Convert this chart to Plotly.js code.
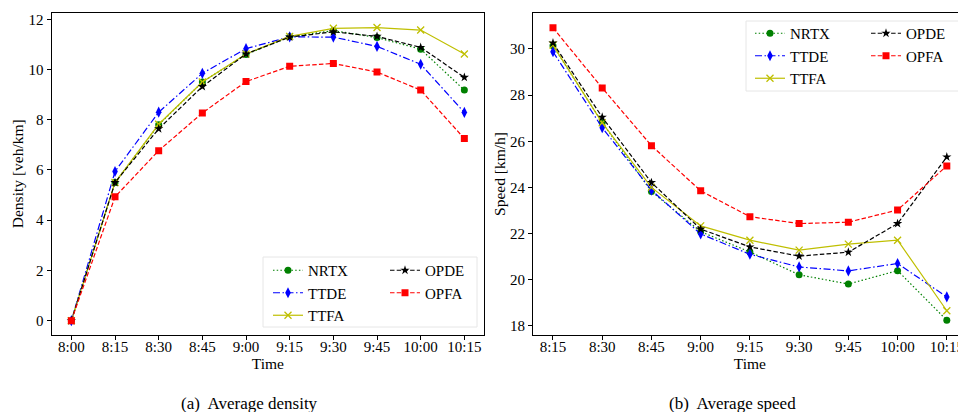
<!DOCTYPE html>
<html>
<head>
<meta charset="utf-8">
<script src="https://cdn.plot.ly/plotly-3.0.1.min.js"></script>
<style>
html, body { margin: 0; padding: 0; overflow: hidden; background: #fff; }
#chart { width: 980px; height: 412px; }
</style>
</head>
<body>
<div id="chart"></div>
<script>
// ---- data ----
const timesDensity = ['8:00','8:15','8:30','8:45','9:00','9:15','9:30','9:45','10:00','10:15'];
const timesSpeed = ['8:15','8:30','8:45','9:00','9:15','9:30','9:45','10:00','10:15'];

const densNRTX = [0, 5.50, 7.80, 9.50, 10.60, 11.30, 11.55, 11.27, 10.81, 9.18];
const densTTDE = [0, 5.94, 8.30, 9.85, 10.83, 11.30, 11.29, 10.92, 10.21, 8.29];
const densTTFA = [0, 5.50, 7.82, 9.50, 10.62, 11.32, 11.64, 11.67, 11.57, 10.62];
const densOPDE = [0, 5.50, 7.64, 9.32, 10.62, 11.29, 11.50, 11.32, 10.88, 9.69];
const densOPFA = [0, 4.93, 6.77, 8.27, 9.52, 10.13, 10.24, 9.90, 9.18, 7.25];

const spdNRTX = [30.14, 26.81, 23.82, 22.08, 21.20, 20.21, 19.81, 20.39, 18.24];
const spdTTDE = [29.88, 26.59, 23.88, 21.98, 21.10, 20.55, 20.38, 20.70, 19.25];
const spdTTFA = [30.17, 26.80, 24.00, 22.33, 21.71, 21.28, 21.54, 21.71, 18.65];
const spdOPDE = [30.26, 27.04, 24.21, 22.19, 21.42, 21.02, 21.19, 22.43, 25.32];
const spdOPFA = [30.92, 28.31, 25.81, 23.85, 22.73, 22.43, 22.49, 23.02, 24.93];

const seriesNames = ['NRTX','TTDE','TTFA','OPDE','OPFA'];
const seriesColors = ['#008000','#0000ff','#bfbf00','#000000','#ff0000'];
const seriesDash = ['1.5px,2.2px','7px,2.5px,1.5px,2.5px','solid','4.5px,2.2px','4.5px,2.2px'];
const seriesSymbols = ['circle','diamond-tall','x-thin-open','star','square'];
const seriesSizes = [7, 8, 7, 7, 7];

// ---- figure geometry ----
const W = 980, H = 412;
const px = v => v / W;
const py = v => 1 - v / H;

const densData = [densNRTX, densTTDE, densTTFA, densOPDE, densOPFA];
const spdData = [spdNRTX, spdTTDE, spdTTFA, spdOPDE, spdOPFA];
const legendLeft = ['legend','legend','legend','legend2','legend2'];
const legendRight = ['legend3','legend3','legend3','legend4','legend4'];

const traces = [];
function mk(xs, ys, i, xa, ya, lg) {
  return {
    x: xs, y: ys, type: 'scatter', mode: 'lines+markers', name: seriesNames[i],
    xaxis: xa, yaxis: ya, legend: lg, cliponaxis: true,
    line: {color: seriesColors[i], width: 1.2, dash: seriesDash[i]},
    marker: {symbol: seriesSymbols[i], size: seriesSizes[i], color: seriesColors[i],
             line: {color: seriesColors[i], width: seriesSymbols[i] === 'x-thin-open' ? 1.3 : 0}}
  };
}
for (let i = 0; i < 5; i++) traces.push(mk(timesDensity, densData[i], i, 'x', 'y', legendLeft[i]));
for (let i = 0; i < 5; i++) traces.push(mk(timesSpeed, spdData[i], i, 'x2', 'y2', legendRight[i]));

const serif = 'Liberation Serif, Times New Roman, serif';
const axisCommon = {
  showgrid: false, zeroline: false, showline: true, mirror: true,
  linecolor: '#000', linewidth: 1.2, ticks: 'outside', ticklen: 4, tickwidth: 1,
  tickcolor: '#000', tickfont: {family: serif, size: 15, color: '#000'}
};
const legendCommon = {
  bgcolor: 'rgba(0,0,0,0)', borderwidth: 0, xanchor: 'left', yanchor: 'top',
  font: {family: serif, size: 15, color: '#000'}, tracegroupgap: 0
};

const layout = {
  width: W, height: H, margin: {l: 0, r: 0, t: 0, b: 0},
  paper_bgcolor: '#fff', plot_bgcolor: '#fff', showlegend: true,
  xaxis: Object.assign({}, axisCommon, {domain: [px(51.7), px(484)], type: 'category', range: [-0.45, 9.45],
    ticklabelstandoff: -6,
    title: {text: 'Time', font: {family: serif, size: 15.5, color: '#000'}, standoff: 0}}),
  yaxis: Object.assign({}, axisCommon, {domain: [py(334.5), py(13)], range: [-0.55, 12.25], dtick: 2, tick0: 0,
    title: {text: 'Density [veh/km]', font: {family: serif, size: 15.5, color: '#000'}, standoff: 1}}),
  xaxis2: Object.assign({}, axisCommon, {domain: [px(533.3), px(966.5)], type: 'category', range: [-0.4, 8.4], anchor: 'y2',
    ticklabelstandoff: -6,
    title: {text: 'Time', font: {family: serif, size: 15.5, color: '#000'}, standoff: 0}}),
  yaxis2: Object.assign({}, axisCommon, {domain: [py(335), py(13)], range: [17.6, 31.56], dtick: 2, tick0: 0, anchor: 'x2',
    title: {text: 'Speed [km/h]', font: {family: serif, size: 15.5, color: '#000'}, standoff: 0}}),
  legend: Object.assign({}, legendCommon, {x: px(268), y: py(254)}),
  legend2: Object.assign({}, legendCommon, {x: px(385), y: py(254)}),
  legend3: Object.assign({}, legendCommon, {x: px(750), y: py(17)}),
  legend4: Object.assign({}, legendCommon, {x: px(866), y: py(17)}),
  shapes: [
    {type: 'rect', xref: 'paper', yref: 'paper', x0: px(263), x1: px(477), y0: py(327), y1: py(257),
     line: {color: '#e6e6e6', width: 1}, fillcolor: 'rgba(255,255,255,0.8)', layer: 'below'},
    {type: 'rect', xref: 'paper', yref: 'paper', x0: px(746), x1: px(960), y0: py(91), y1: py(21),
     line: {color: '#e6e6e6', width: 1}, fillcolor: 'rgba(255,255,255,0.8)', layer: 'below'}
  ],
  annotations: [
    {text: '(a)  Average density', xref: 'paper', yref: 'paper', x: px(249), y: py(403), showarrow: false,
     xanchor: 'center', yanchor: 'middle', font: {family: serif, size: 17, color: '#000'}},
    {text: '(b)  Average speed', xref: 'paper', yref: 'paper', x: px(732), y: py(403), showarrow: false,
     xanchor: 'center', yanchor: 'middle', font: {family: serif, size: 17, color: '#000'}}
  ]
};

Plotly.newPlot('chart', traces, layout, {staticPlot: true, displayModeBar: false});
</script>
</body>
</html>
